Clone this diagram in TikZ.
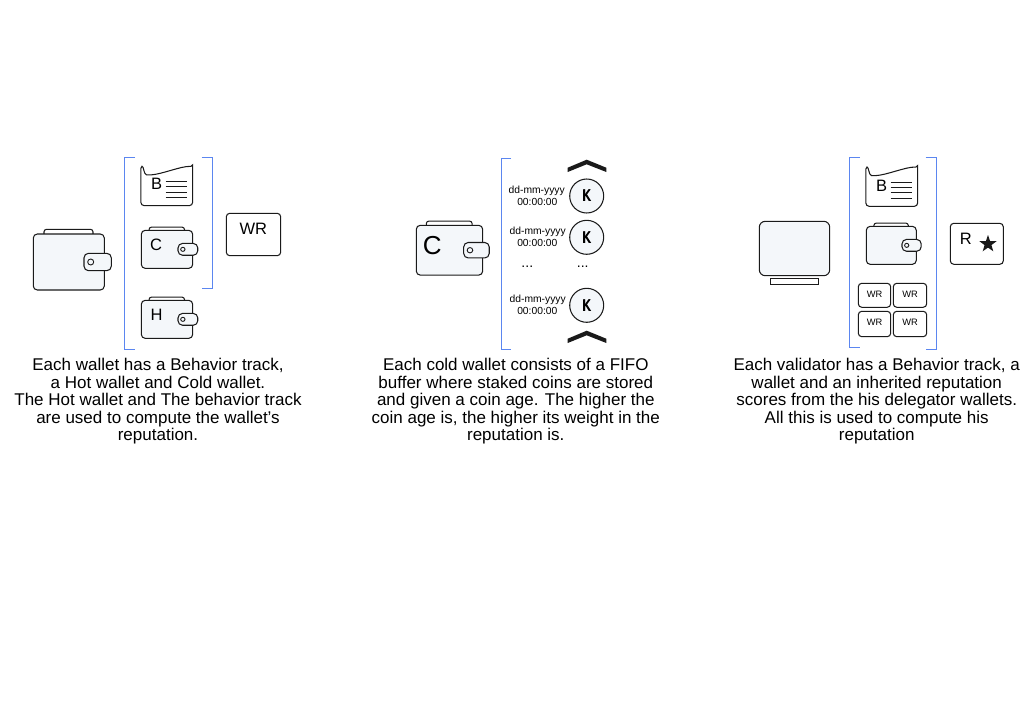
\documentclass[tikz,border=0pt]{standalone}
\usepackage{fontspec}
\setmainfont{Liberation Sans}
\newfontfamily\coinfont[FakeStretch=0.74]{Liberation Sans}
\newcommand{\coinmark}{\coinfont\rlap{K}\kern0.5pt\rlap{K}\kern0.5pt K}
\usetikzlibrary{shapes.geometric}
\definecolor{bracketblue}{HTML}{5B86F0}
\definecolor{paleblue}{HTML}{F4F7FA}
\definecolor{darkline}{HTML}{1A1A1A}
\tikzset{
  outline/.style={draw=darkline,line width=1.05pt,rounded corners=3.5pt},
  bracket/.style={draw=bracketblue,line width=0.9pt},
  caption/.style={align=center,inner sep=0pt,font=\fontsize{17}{17.5}\selectfont},
  letter/.style={inner sep=0pt,font=\fontsize{16.5}{18}\selectfont},
  stamp/.style={inner sep=0pt,font=\fontsize{10.3}{11}\selectfont},
  dotrow/.style={inner sep=0pt,font=\fontsize{14}{14}\selectfont},
  coin/.style={circle,draw=darkline,line width=1.05pt,fill=paleblue,minimum size=34pt,inner sep=0pt,font=\fontsize{17}{18}\selectfont},
  tinybox/.style={inner sep=0pt,font=\fontsize{9.3}{10}\selectfont},
  pics/wallet/.style={code={
    \draw [outline,fill=white,rounded corners=2.5pt] (10.7,2) -- (10.7,-4.7) -- (59.7,-4.7) -- (59.7,2);
    \draw [outline,fill=paleblue,rounded corners=4pt] (0,0) rectangle (71,56);
    \draw [outline,fill=paleblue,rounded corners=4.5pt] (50.7,19.3) rectangle (78,36.7);
    \draw [darkline,line width=0.9pt] (57.4,28) circle (3);
  }},
  pics/track/.style={code={
    \draw [outline,fill=white] (0.5,6) -- (0.5,39.4) -- (52.4,39.4) -- (52.4,2) [sharp corners]
      .. controls (52.4,0.4) and (50,0) .. (46,0.3) .. controls (34,2) and (16,10) .. (6,8.5)
      .. controls (3.5,8) and (3.5,0) .. (1.7,0) .. controls (0.5,0) and (0.5,3) .. (0.5,6) -- cycle;
    \foreach \liney in {15.3,20.3,25.7,31}
      \draw [darkline,line width=0.8pt] (25.3,\liney) -- (46.3,\liney);
  }},
  pics/chevron/.style={code={
    \fill [darkline] (-19,8) -- (0,0) -- (19.6,8) -- (19.6,12.3) -- (0,4.6) -- (-19,12.3) -- cycle;
  }}
}
\begin{document}
\begin{tikzpicture}[x=1pt,y=-1pt]
\useasboundingbox (0,0) rectangle (1029,728);
% wallet panel
\pic at (33.3,234) {wallet};
\draw [bracket] (135,157.3) -- (124.3,157.3) -- (124.3,349.3) -- (135,349.3);
\draw [bracket] (201.7,157.3) -- (212.7,157.3) -- (212.7,288.3) -- (201.7,288.3);
\pic at (140.3,166.3) {track};
\node [letter] (trackone) at (156.7,184) {B};
\pic [xscale=0.724,yscale=0.68] at (141.3,230.3) {wallet};
\node [letter] (coldone) at (156,245) {C};
\pic [xscale=0.724,yscale=0.68] at (141.3,300.3) {wallet};
\node [letter] (hotone) at (156.7,315) {H};
\draw [outline] (226.3,213.3) rectangle (280.7,255.7);
\node [letter] (wrone) at (253.3,229) {WR};
\node [caption] (captionone) at (158,401.5) {Each wallet has a Behavior track,\hspace{5pt}\\a Hot wallet and Cold wallet.\\The Hot wallet and The behavior track\\are used to compute the wallet’s\\reputation.};
% cold wallet panel
\pic [xscale=0.935,yscale=0.89] at (416.3,225.3) {wallet};
\node [inner sep=0pt,font=\fontsize{26}{28}\selectfont] (coldtwo) at (432.3,246) {C};
\draw [bracket] (511,158.3) -- (501.3,158.3) -- (501.3,349.3) -- (511,349.3);
\pic at (586.7,159.7) {chevron};
\pic at (586.7,330.7) {chevron};
\node [coin] (coina) at (586.7,196) {\coinmark};
\node [coin] (coinb) at (586.7,237.3) {\coinmark};
\node [coin] (coinc) at (586.7,305.3) {\coinmark};
\node [stamp] (datea) at (536.7,190.7) {dd-mm-yyyy};
\node [stamp] (timea) at (537.3,202.3) {00:00:00};
\node [stamp] (dateb) at (537.7,231.7) {dd-mm-yyyy};
\node [stamp] (timeb) at (537.3,243.3) {00:00:00};
\node [stamp] (datec) at (537.7,300) {dd-mm-yyyy};
\node [stamp] (timec) at (537.3,311.3) {00:00:00};
\node [dotrow] (dotsa) at (527.3,267) {...};
\node [dotrow] (dotsb) at (582.7,267) {...};
\node [caption] (captiontwo) at (515.8,401.5) {Each cold wallet consists of a FIFO\\buffer where staked coins are stored\\and given a coin age. The higher the\\coin age is, the higher its weight in the\\reputation is.};
% validator panel
\draw [outline,fill=paleblue,rounded corners=6pt] (759.3,221.3) rectangle (829.7,275.7);
\draw [draw=darkline,line width=1pt] (770.3,278.3) rectangle (818.7,284.3);
\draw [bracket] (860,157.3) -- (849.3,157.3) -- (849.3,347.3) -- (860,347.3);
\draw [bracket] (925.7,157.3) -- (936.7,157.3) -- (936.7,349.3) -- (925.7,349.3);
\pic at (865.3,167) {track};
\node [letter] (trackthree) at (881.7,185.7) {B};
\pic [xscale=0.704,yscale=0.68] at (866.3,226.3) {wallet};
\foreach \boxx/\boxy/\boxw/\boxh in {858.3/283.3/32.4/24,893.3/283.3/33.4/24,858.3/311.3/32.4/25.4,893.3/311.3/33.4/25.4}
  \draw [outline] (\boxx,\boxy) rectangle ++(\boxw,\boxh);
\node [tinybox] (wra) at (874.7,294) {WR};
\node [tinybox] (wrb) at (910,294) {WR};
\node [tinybox] (wrc) at (874.7,322.7) {WR};
\node [tinybox] (wrd) at (910,322.7) {WR};
\draw [outline] (950.3,223.3) rectangle (1003.3,264.3);
\node [letter] (repthree) at (965.7,239.3) {R};
\node [star,star points=5,star point ratio=2.5,fill=darkline,inner sep=0pt,minimum size=18pt] (starthree) at (988,244) {};
\node [caption] (captionthree) at (876.7,401.5) {Each validator has a Behavior track, a\\wallet and an inherited reputation\\scores from the his delegator wallets.\\All this is used to compute his\\reputation};
\end{tikzpicture}
\end{document}
